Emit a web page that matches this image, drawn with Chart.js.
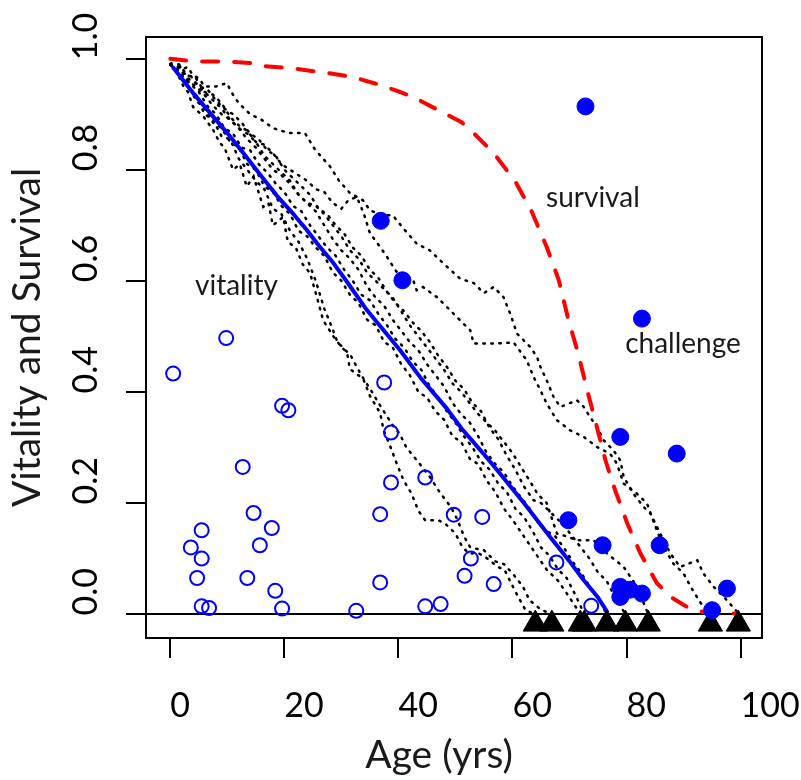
<!DOCTYPE html>
<html><head><meta charset="utf-8">
<script src="https://cdn.jsdelivr.net/npm/chart.js@4/dist/chart.umd.min.js"></script>
<style>html,body{margin:0;padding:0;background:#fff}#wrap{width:801px;height:780px;position:relative}</style>
</head><body><div id="wrap"><canvas id="c"></canvas></div>
<script>
// ---- axis ranges and ticks ----
const xMin = -4.26, xMax = 103.75;
const yMin = -0.043, yMax = 1.039;
const xTicks = [0, 20, 40, 60, 80, 100];
const yTicks = [0, 0.2, 0.4, 0.6, 0.8, 1.0];

// ---- survival curve (red dashed) ----
const survAge = [0,4,10,14,16,21,27,32,37,40,43,45,48,51,53,56.7,60.5,63.4,66,68.1,69.8,71.5,73.1,74.8,76.3,78,80.1,82.4,85.3,87.7,90.6,93.4,99.4];
const survVal = [1.0,0.995,0.995,0.992,0.987,0.983,0.975,0.967,0.952,0.941,0.929,0.918,0.902,0.886,0.868,0.830,0.779,0.724,0.661,0.602,0.530,0.470,0.403,0.337,0.277,0.223,0.164,0.110,0.056,0.031,0.013,0.004,0.001];

// ---- mean vitality (blue solid) ----
const meanAge = [0.5,4,7,10,12.8,15.7,18.7,21.6,23.9,26,28.6,31,34.5,37.4,40.3,44,48.5,51,54.9,57.8,62,66.6,70,72.5,75,76.6];
const meanVit = [0.984,0.938,0.902,0.866,0.830,0.792,0.753,0.720,0.692,0.664,0.632,0.598,0.547,0.511,0.475,0.424,0.370,0.335,0.289,0.253,0.200,0.139,0.095,0.061,0.030,0.004];

// ---- open circles (vitality) ----
const vitAge = [0.5,9.8,19.6,20.7,12.7,14.6,17.8,5.5,15.7,3.6,5.5,4.7,13.5,18.4,5.5,6.8,19.6,32.6,37.5,38.7,38.7,36.8,36.8,44.7,44.7,47.4,49.7,54.7,52.7,51.6,56.7,67.7,73.8];
const vitVal = [0.433,0.497,0.375,0.367,0.265,0.182,0.155,0.151,0.124,0.120,0.100,0.065,0.065,0.042,0.014,0.011,0.010,0.006,0.417,0.327,0.237,0.180,0.057,0.246,0.014,0.018,0.179,0.175,0.100,0.069,0.054,0.093,0.015];

// ---- filled circles (challenge) ----
const chAge = [72.8,82.7,36.9,40.7,78.9,88.8,69.8,75.8,85.8,97.6,78.9,80.6,82.7,78.9,95.0];
const chVal = [0.914,0.532,0.708,0.601,0.319,0.289,0.169,0.124,0.124,0.046,0.049,0.044,0.037,0.031,0.007];

// ---- triangles (vitality reaches zero) ----
const triAge = [64.0,66.9,71.9,72.6,76.5,79.8,83.8,94.7,99.6];
const triLevel = -0.018;

// ---- individual vitality trajectories (black dotted) ----
const trajA = [[0,0.99],[1.2,0.975],[2.3,0.95],[3.1,0.94],[4,0.913],[5.8,0.896],[7.5,0.872],[8.7,0.848],[9.5,0.84],[11,0.80],[12.2,0.81],[13.4,0.77],[14.6,0.788],[16.3,0.733],[17.2,0.74],[18,0.70],[19.8,0.715],[20.6,0.67],[22,0.66],[23.2,0.63],[24.5,0.614],[25.7,0.571],[26.8,0.529],[28.6,0.50],[29.7,0.485],[31,0.47],[31.5,0.441],[33.8,0.424],[35,0.393],[36.8,0.362],[37.4,0.331],[38.6,0.301],[39.7,0.271],[40.9,0.241],[42.3,0.217],[43.5,0.186],[44.7,0.169],[47,0.169],[48.2,0.163],[50,0.145],[51.2,0.121],[52.4,0.109],[54,0.11],[55.6,0.10],[57.4,0.085],[58.6,0.08],[59.8,0.055],[61,0.031],[62.3,0.007],[64,0]];
const trajB = [[0,0.99],[1.5,0.97],[3,0.95],[4.5,0.935],[6,0.90],[7.5,0.89],[9,0.86],[10.5,0.855],[12,0.82],[13.5,0.80],[15,0.78],[16.5,0.765],[18,0.73],[19.5,0.72],[21,0.69],[22.5,0.67],[24,0.64],[25.5,0.60],[27,0.55],[28.2,0.52],[29.3,0.49],[31.6,0.466],[33.5,0.43],[35.3,0.401],[37,0.372],[39,0.34],[40.2,0.325],[41.4,0.30],[43.7,0.271],[45.5,0.247],[47.4,0.217],[49.2,0.193],[50.4,0.169],[51.5,0.14],[52.6,0.12],[55,0.115],[57,0.095],[58.5,0.09],[60.2,0.071],[61.8,0.05],[63,0.025],[65,0.008],[66.9,0]];
const trajC = [[0,0.99],[1.5,0.97],[3,0.955],[4.5,0.925],[6,0.91],[7.5,0.885],[9,0.875],[10.5,0.85],[12,0.84],[13.5,0.81],[15,0.80],[16.5,0.77],[18,0.76],[19.5,0.735],[21,0.72],[22.5,0.69],[24,0.68],[25.5,0.66],[27,0.645],[28.5,0.615],[30,0.60],[31.5,0.575],[33,0.56],[34.5,0.53],[36,0.52],[37.5,0.49],[39,0.48],[40.5,0.45],[42,0.43],[43.5,0.40],[45,0.39],[46.5,0.365],[48,0.35],[49.5,0.32],[51,0.31],[52.5,0.28],[54,0.27],[55.5,0.24],[57,0.22],[58.5,0.19],[60,0.17],[62,0.14],[64,0.11],[66,0.08],[68,0.06],[70,0.03],[71.9,0]];
const trajD = [[0,0.99],[2,0.97],[3.5,0.955],[5,0.94],[6.5,0.915],[8,0.90],[9.5,0.875],[11,0.865],[12.5,0.84],[14,0.835],[15.5,0.81],[17,0.795],[18.5,0.775],[20,0.76],[21.5,0.735],[23,0.725],[24.5,0.70],[26,0.68],[27.5,0.66],[29,0.645],[30.5,0.62],[32,0.60],[33.5,0.575],[35,0.565],[36.5,0.54],[38,0.52],[39.5,0.495],[41,0.48],[42.5,0.455],[44,0.44],[45.5,0.41],[47,0.39],[48.5,0.365],[50,0.345],[51.5,0.32],[53,0.30],[54.5,0.275],[56,0.26],[57.5,0.235],[59,0.22],[60.5,0.19],[62,0.175],[63.5,0.15],[65,0.12],[66.5,0.105],[68,0.08],[69.5,0.065],[71,0.035],[72.6,0]];
const trajE = [[0,0.99],[1.5,0.985],[3,0.965],[4.5,0.955],[6,0.94],[7.5,0.925],[9,0.91],[10.5,0.89],[12,0.875],[13.5,0.865],[15,0.85],[16.5,0.825],[18,0.81],[19.5,0.795],[21,0.78],[22.5,0.755],[24,0.74],[25.5,0.725],[27,0.70],[28.5,0.675],[30,0.655],[31.5,0.64],[33,0.62],[34.5,0.59],[36,0.57],[37.5,0.555],[39,0.53],[40.5,0.51],[42,0.49],[43.5,0.475],[45,0.45],[46.5,0.43],[48,0.41],[49.5,0.38],[51,0.36],[52.5,0.345],[54,0.32],[55.5,0.29],[57,0.27],[58.5,0.255],[60,0.23],[61.5,0.21],[63,0.19],[64.5,0.165],[66,0.15],[67.5,0.14],[69,0.12],[70.5,0.095],[72,0.075],[73.5,0.05],[75,0.03],[76.5,0]];
const trajF = [[0,0.99],[2,0.975],[3.5,0.97],[5,0.95],[6.5,0.945],[8,0.925],[9.5,0.91],[11,0.90],[12.5,0.885],[14,0.865],[15.5,0.855],[17,0.835],[18.5,0.825],[20,0.80],[21.5,0.785],[23,0.77],[24.5,0.755],[26,0.73],[27.5,0.72],[29,0.70],[30.5,0.685],[32,0.66],[33.5,0.645],[35,0.62],[36.5,0.605],[38,0.58],[39.5,0.56],[41,0.545],[42.5,0.525],[44,0.51],[45.5,0.49],[47,0.465],[48.5,0.445],[50,0.42],[51.5,0.405],[53,0.38],[54.5,0.365],[56,0.335],[57.5,0.315],[59,0.285],[60.5,0.26],[62,0.23],[63.7,0.205],[65,0.20],[66,0.19],[67.5,0.175],[69,0.16],[70.5,0.14],[72,0.12],[73.5,0.10],[75,0.075],[76.5,0.06],[78,0.03],[79.8,0]];
const trajG = [[0,0.99],[1.5,0.985],[3,0.96],[4.5,0.95],[6,0.935],[7.5,0.915],[9,0.90],[10.5,0.89],[12,0.875],[13.5,0.855],[15,0.84],[16.5,0.82],[18,0.80],[19.5,0.79],[21,0.775],[22.5,0.755],[24,0.74],[25.5,0.735],[27,0.72],[28.5,0.70],[30,0.68],[31.5,0.655],[33,0.64],[34.5,0.615],[36,0.60],[37.5,0.585],[39,0.57],[40.5,0.545],[42,0.52],[43.5,0.50],[45,0.48],[46.5,0.46],[48,0.44],[49.5,0.415],[51,0.40],[52.5,0.38],[54,0.36],[55.5,0.345],[57,0.33],[58.5,0.31],[60,0.29],[61.5,0.265],[63,0.24],[64.5,0.215],[66,0.20],[67.8,0.145],[69.5,0.14],[71.3,0.133],[74.2,0.133],[76.6,0.109],[79.5,0.085],[81.8,0.05],[83.8,0]];
const trajH = [[0,0.99],[1.5,0.99],[3,0.97],[4.5,0.965],[6,0.94],[7.5,0.935],[9,0.92],[10.5,0.895],[12,0.88],[13.5,0.87],[15,0.85],[16.5,0.845],[18,0.83],[19.5,0.81],[21,0.80],[22.5,0.79],[24,0.78],[25.5,0.765],[27,0.76],[28.5,0.74],[30,0.73],[31.2,0.745],[32.7,0.751],[33.9,0.722],[35,0.686],[36.8,0.661],[38,0.643],[39.1,0.625],[40.7,0.601],[42.6,0.601],[43.2,0.583],[44.3,0.589],[46.7,0.571],[48.5,0.553],[50.8,0.529],[52.6,0.511],[53.2,0.487],[56.7,0.487],[60.2,0.489],[62.5,0.457],[63.7,0.427],[64.9,0.403],[66,0.379],[67.8,0.349],[70.1,0.331],[72.5,0.319],[74.8,0.301],[77.1,0.289],[78.3,0.271],[79.5,0.235],[81.8,0.217],[83.6,0.199],[85.3,0.151],[86.5,0.121],[88.2,0.091],[90,0.073],[91.5,0.045],[93,0.02],[94.7,0]];
const trajI = [[0,0.99],[1,1.0],[2,0.98],[3,0.985],[4,0.97],[5,0.965],[6,0.95],[8,0.95],[9.9,0.956],[11,0.935],[12,0.92],[14,0.90],[16,0.89],[18,0.875],[19.5,0.87],[21,0.866],[23.6,0.866],[25.4,0.836],[28,0.806],[29.6,0.78],[31.5,0.758],[33.8,0.745],[35,0.727],[37.3,0.718],[39,0.718],[40.9,0.694],[43.2,0.667],[45.5,0.655],[47.3,0.637],[50.8,0.604],[53.2,0.596],[55,0.578],[56.7,0.589],[58.4,0.571],[59.6,0.541],[60.8,0.505],[63.1,0.481],[64.3,0.463],[64.9,0.445],[66,0.421],[67.2,0.391],[68.4,0.373],[71.3,0.385],[72.5,0.373],[73.6,0.355],[74.8,0.337],[76,0.313],[77.7,0.295],[78.9,0.277],[79.5,0.247],[81.2,0.217],[83,0.193],[84.2,0.181],[85.9,0.145],[87.7,0.109],[89.4,0.085],[92.4,0.097],[93.5,0.073],[95.3,0.049],[97.6,0.025],[99.4,0.004],[99.6,0]];
const trajectories = [trajA, trajB, trajC, trajD, trajE, trajF, trajG, trajH, trajI];

// ---- in-plot labels ----
const noteText = ['vitality', 'survival', 'challenge'];
const noteAge = [11.6, 74.1, 89.9];
const noteVal = [0.5745, 0.733, 0.470];

// ---- build datasets ----
const pts = (xs, ys) => xs.map((x, i) => ({x: x, y: ys[i]}));
const datasets = [];
datasets.push({label:'challenge', data: pts(chAge, chVal), showLine:false, pointStyle:'circle', pointRadius:8.5, pointBackgroundColor:'#0000ff', pointBorderColor:'#0000ff', pointBorderWidth:1, order:0});
datasets.push({label:'vitality at death', data: pts(vitAge, vitVal), showLine:false, pointStyle:'circle', pointRadius:7, pointBackgroundColor:'rgba(0,0,0,0)', pointBorderColor:'#0000ff', pointBorderWidth:2, order:1});
datasets.push({label:'zero', data: triAge.map(a => ({x:a, y:triLevel})), showLine:false, pointStyle:'triangle', pointRadius:14, pointBackgroundColor:'#000', pointBorderColor:'#000', pointBorderWidth:1, order:2});
datasets.push({label:'survival', data: pts(survAge, survVal), showLine:true, borderColor:'#ff0000', borderWidth:4, borderDash:[16,16], borderCapStyle:'round', pointRadius:0, tension:0, order:3});
datasets.push({label:'mean', data: pts(meanAge, meanVit), showLine:true, borderColor:'#0000ff', borderWidth:4, borderCapStyle:'round', borderJoinStyle:'round', pointRadius:0, tension:0, order:4});
trajectories.forEach((t, k) => {
  datasets.push({label:'traj'+k, data: t.map(p => ({x:p[0], y:p[1]})), showLine:true, borderColor:'#000', borderWidth:2.5, borderDash:[1.5,6.5], borderCapStyle:'round', pointRadius:0, tension:0, order:10+k});
});

const FONT = 'Lato';

const framePlugin = {
  id:'frame',
  beforeDatasetsDraw(chart) {
    const {ctx, chartArea:a, scales:{y}} = chart;
    const py = y.getPixelForValue(0);
    ctx.save();
    ctx.strokeStyle = '#000'; ctx.lineWidth = 2;
    ctx.beginPath(); ctx.moveTo(a.left, py); ctx.lineTo(a.right, py); ctx.stroke();
    ctx.restore();
  },
  afterDatasetsDraw(chart) {
    const {ctx, scales:{x, y}} = chart;
    ctx.save();
    ctx.fillStyle = '#1a1a1a';
    ctx.font = '28px ' + FONT;
    ctx.textAlign = 'center'; ctx.textBaseline = 'alphabetic';
    noteText.forEach((t, i) => ctx.fillText(t, x.getPixelForValue(noteAge[i]), y.getPixelForValue(noteVal[i])));
    ctx.restore();
  },
  afterDraw(chart) {
    const {ctx, chartArea:a} = chart;
    ctx.save();
    ctx.strokeStyle = '#000'; ctx.lineWidth = 2;
    ctx.strokeRect(a.left, a.top, a.right - a.left, a.bottom - a.top);
    ctx.restore();
  }
};

new Chart(document.getElementById('c'), {
  type:'scatter',
  data:{datasets},
  plugins:[framePlugin],
  options:{
    responsive:true, maintainAspectRatio:false, animation:false, events:[],
    layout:{autoPadding:false, padding:{left:0, top:37, right:39, bottom:0}},
    plugins:{legend:{display:false}, tooltip:{enabled:false}},
    scales:{
      x:{type:'linear', min:xMin, max:xMax,
        afterBuildTicks: s => { s.ticks = xTicks.map(v => ({value:v})); },
        afterFit: s => { s.height = 142; s.paddingLeft = 0; s.paddingRight = 0; },
        grid:{display:true, drawOnChartArea:false, drawTicks:true, tickLength:20, tickWidth:2, tickColor:'#000', color:'#000', lineWidth:2},
        border:{display:true, color:'#000', width:2},
        ticks:{align:'start', padding:28, color:'#000', autoSkip:false, maxRotation:0, font:{family:FONT, size:34}, callback: v => String(v)},
        title:{display:true, text:'Age (yrs)\u00A0\u00A0\u00A0', color:'#1a1a1a', font:{family:FONT, size:39}, padding:{top:0, bottom:1}}
      },
      y:{type:'linear', min:yMin, max:yMax,
        afterBuildTicks: s => { s.ticks = yTicks.map(v => ({value:v})); },
        afterFit: s => { s.width = 146; s.paddingTop = 0; s.paddingBottom = 0; },
        grid:{display:true, drawOnChartArea:false, drawTicks:true, tickLength:20, tickWidth:2, tickColor:'#000', color:'#000', lineWidth:2},
        border:{display:true, color:'#000', width:2},
        ticks:{crossAlign:'near', padding:39.5, minRotation:90, maxRotation:90, labelOffset:-46, color:'#000', autoSkip:false, font:{family:FONT, size:34}, callback: v => v.toFixed(1)},
        title:{display:true, text:'Vitality and Survival', color:'#1a1a1a', font:{family:FONT, size:39}, padding:{top:3.7, bottom:0}}
      }
    }
  }
});
</script>
</body></html>
